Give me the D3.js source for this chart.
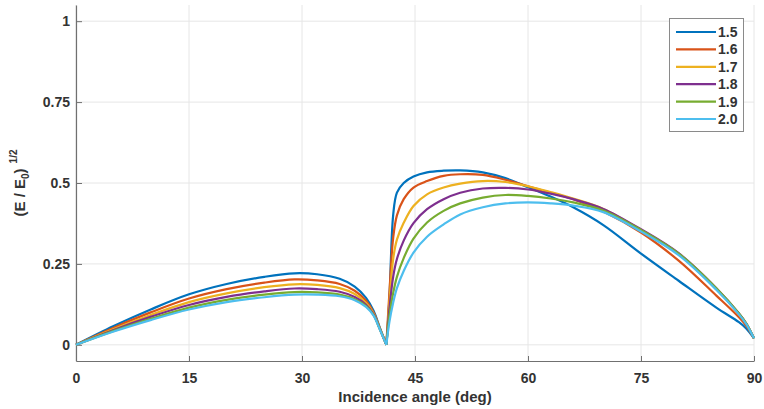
<!DOCTYPE html>
<html>
<head>
<meta charset="utf-8">
<script src="https://cdnjs.cloudflare.com/ajax/libs/d3/7.8.5/d3.min.js"></script>
<style>
  body { margin: 0; background: #fff; }
  svg { display: block; font-family: "Liberation Sans", Arial, Helvetica, sans-serif; }
  .tick text { font-size: 14px; font-weight: bold; fill: #333; }
</style>
</head>
<body>
<svg></svg>
<script>
// incidence angle samples (deg); the curves dip to zero at dipAngle
var angle = [0, 5, 10, 15, 20, 25, 29, 32, 35, 37, 38.5, 39.5, 40.3, 41.2,
  41.6, 42.1, 42.6, 43.5, 44.8, 46.6, 48.8, 51, 54, 57, 60, 63, 66, 70, 75, 80, 85, 88, 89, 90];
var dipAngle = 41.2;

var n15 = [0, 0.058, 0.110, 0.156, 0.188, 0.210, 0.221, 0.218, 0.204, 0.180, 0.145, 0.105, 0.055, 0,
  0.14, 0.40, 0.47, 0.50, 0.52, 0.533, 0.538, 0.539, 0.533, 0.515, 0.487, 0.458, 0.425, 0.37, 0.282, 0.198, 0.115, 0.07, 0.05, 0.02];
var n16 = [0, 0.053, 0.101, 0.143, 0.172, 0.192, 0.202, 0.199, 0.188, 0.167, 0.136, 0.100, 0.053, 0,
  0.16, 0.33, 0.40, 0.45, 0.486, 0.506, 0.522, 0.527, 0.525, 0.51, 0.49, 0.47, 0.45, 0.412, 0.347, 0.26, 0.152, 0.085, 0.058, 0.02];
var n17 = [0, 0.049, 0.093, 0.132, 0.159, 0.178, 0.187, 0.185, 0.175, 0.157, 0.129, 0.097, 0.052, 0,
  0.13, 0.265, 0.325, 0.377, 0.429, 0.465, 0.486, 0.498, 0.506, 0.503, 0.49, 0.472, 0.452, 0.42, 0.355, 0.28, 0.172, 0.096, 0.065, 0.02];
var n18 = [0, 0.046, 0.087, 0.123, 0.148, 0.165, 0.174, 0.172, 0.164, 0.148, 0.124, 0.094, 0.051, 0,
  0.11, 0.21, 0.265, 0.322, 0.376, 0.419, 0.45, 0.47, 0.483, 0.485, 0.48, 0.467, 0.45, 0.42, 0.357, 0.283, 0.175, 0.097, 0.065, 0.02];
var n19 = [0, 0.043, 0.081, 0.115, 0.139, 0.155, 0.163, 0.162, 0.155, 0.141, 0.120, 0.092, 0.050, 0,
  0.09, 0.16, 0.21, 0.268, 0.328, 0.378, 0.414, 0.437, 0.455, 0.463, 0.46, 0.452, 0.44, 0.415, 0.355, 0.282, 0.175, 0.097, 0.065, 0.02];
var n20 = [0, 0.041, 0.077, 0.109, 0.132, 0.147, 0.155, 0.155, 0.150, 0.138, 0.117, 0.090, 0.049, 0,
  0.07, 0.13, 0.175, 0.228, 0.285, 0.334, 0.372, 0.403, 0.425, 0.437, 0.44, 0.437, 0.43, 0.41, 0.35, 0.277, 0.17, 0.094, 0.063, 0.02];

var seriesNames = ["1.5", "1.6", "1.7", "1.8", "1.9", "2.0"];
var seriesValues = [n15, n16, n17, n18, n19, n20];
var colors = ["#0072BD", "#D95319", "#EDB120", "#7E2F8E", "#77AC30", "#4DBEEE"];

var xTicks = [0, 15, 30, 45, 60, 75, 90];
var yTicks = [0, 0.25, 0.5, 0.75, 1];
var yTickLabels = ["0", "0.25", "0.5", "0.75", "1"];

var width = 764,
  height = 409;
var plot = { left: 76, right: 754, top: 5, bottom: 361 };

var svg = d3.select("svg")
  .attr("width", width)
  .attr("height", height);

var xScale = d3.scaleLinear().domain([0, 90]).range([plot.left, plot.right]);
var yScale = d3.scaleLinear().domain([-0.05, 1.05]).range([plot.bottom, plot.top]);

// grid
var grid = svg.append("g").attr("class", "grid");
grid.selectAll("line.vx")
  .data(xTicks)
  .enter().append("line")
  .attr("class", "vx")
  .attr("x1", function(d) { return xScale(d); })
  .attr("x2", function(d) { return xScale(d); })
  .attr("y1", plot.top)
  .attr("y2", plot.bottom)
  .attr("stroke", "#e6e6e6")
  .attr("stroke-width", 1);
grid.selectAll("line.hy")
  .data(yTicks)
  .enter().append("line")
  .attr("class", "hy")
  .attr("x1", plot.left)
  .attr("x2", plot.right)
  .attr("y1", function(d) { return yScale(d); })
  .attr("y2", function(d) { return yScale(d); })
  .attr("stroke", "#e6e6e6")
  .attr("stroke-width", 1);

// axes, ticks pointing into the plot
var xAxis = svg.append("g")
  .attr("transform", "translate(0," + plot.bottom + ")")
  .call(d3.axisBottom(xScale).tickValues(xTicks).tickSizeInner(-5).tickSizeOuter(0).tickPadding(12));
var yAxis = svg.append("g")
  .attr("transform", "translate(" + plot.left + ",0)")
  .call(d3.axisLeft(yScale).tickValues(yTicks).tickSizeInner(-6).tickSizeOuter(0).tickPadding(6)
    .tickFormat(function(d, i) { return yTickLabels[i]; }));
[xAxis, yAxis].forEach(function(ax) {
  ax.select(".domain").attr("stroke", "#707070").attr("stroke-width", 1.2);
  ax.selectAll(".tick line").attr("stroke", "#707070");
});

// curves: split at the dip so the bottom stays a sharp cusp
var line = d3.line()
  .x(function(d) { return xScale(d[0]); })
  .y(function(d) { return yScale(d[1]); })
  .curve(d3.curveCatmullRom.alpha(0.5));

var curves = svg.append("g").attr("class", "curves");
seriesValues.forEach(function(vals, k) {
  var pts = angle.map(function(a, i) { return [a, vals[i]]; });
  var low = pts.filter(function(p) { return p[0] <= dipAngle; });
  var high = pts.filter(function(p) { return p[0] >= dipAngle; });
  [low, high].forEach(function(seg) {
    curves.append("path")
      .attr("d", line(seg))
      .attr("fill", "none")
      .attr("stroke", colors[k])
      .attr("stroke-width", 2.2)
      .attr("stroke-linejoin", "round");
  });
});

// axis titles
svg.append("text")
  .attr("x", (plot.left + plot.right) / 2)
  .attr("y", 402)
  .attr("text-anchor", "middle")
  .attr("font-size", "15px")
  .attr("font-weight", "bold")
  .attr("fill", "#333")
  .text("Incidence angle (deg)");

var yTitle = svg.append("text")
  .attr("transform", "translate(25," + ((plot.top + plot.bottom) / 2) + ") rotate(-90)")
  .attr("text-anchor", "middle")
  .attr("font-size", "15px")
  .attr("font-weight", "bold")
  .attr("fill", "#333");
yTitle.append("tspan").text("(E / E");
yTitle.append("tspan").attr("font-size", "10px").attr("dy", 4).text("0");
yTitle.append("tspan").attr("dy", -4).text(")");
yTitle.append("tspan").attr("font-size", "10px").attr("dy", -8).attr("dx", 5).text("1/2");

// legend
var legend = svg.append("g").attr("class", "legend");
legend.append("rect")
  .attr("x", 669.5)
  .attr("y", 18.5)
  .attr("width", 74)
  .attr("height", 113)
  .attr("fill", "#fff")
  .attr("stroke", "#8a8a8a")
  .attr("stroke-width", 1);
var rows = legend.selectAll("g.row")
  .data(seriesNames)
  .enter().append("g")
  .attr("class", "row")
  .attr("transform", function(d, i) { return "translate(0," + (32 + i * 17.4) + ")"; });
rows.append("line")
  .attr("x1", 676)
  .attr("x2", 716)
  .attr("stroke", function(d, i) { return colors[i]; })
  .attr("stroke-width", 2.2);
rows.append("text")
  .attr("x", 718)
  .attr("dy", "0.35em")
  .attr("font-size", "14px")
  .attr("font-weight", "bold")
  .attr("fill", "#333")
  .text(function(d) { return d; });
</script>
</body>
</html>
